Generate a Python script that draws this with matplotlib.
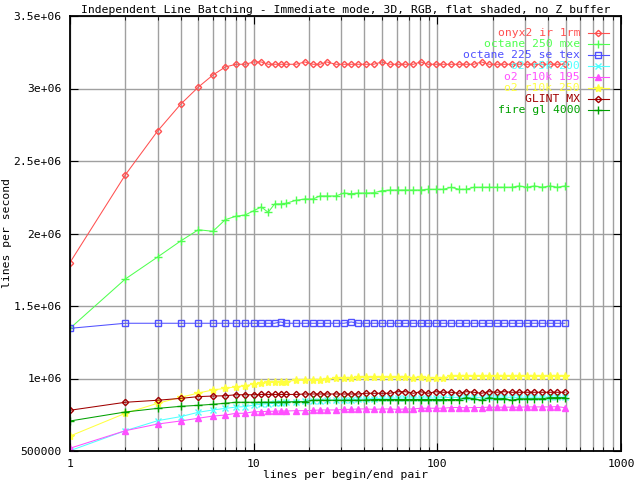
# line batching - modo imediato, 3D, RGB, flat shaded, sem Z buffer

import matplotlib.pyplot as plt
from matplotlib.ticker import LogLocator, FixedLocator, NullFormatter

plt.rcParams['font.family'] = ['DejaVu Sans Mono']
plt.rcParams['font.size'] = 8.2

# linhas por par begin/end
x = [1, 2, 3, 4, 5, 6, 7, 8, 9, 10, 11, 12, 13, 14, 15, 17, 19, 21, 23, 25,
     28, 31, 34, 37, 41, 45, 50, 55, 61, 67, 74, 81, 89, 98, 108, 119, 131,
     144, 158, 174, 191, 210, 231, 254, 279, 307, 338, 372, 409, 450, 495]

onyx2 = [1800000, 2404000, 2707000, 2891000, 3010000, 3093000, 3148000, 3167000,
         3167000, 3183000, 3183000, 3167000, 3167000, 3167000, 3167000, 3167000,
         3183000, 3167000, 3167000, 3183000, 3167000, 3167000, 3167000, 3167000,
         3167000, 3167000, 3183000, 3167000, 3167000, 3167000, 3167000, 3183000,
         3167000, 3167000, 3167000, 3167000, 3167000, 3167000, 3167000, 3183000,
         3167000, 3167000, 3167000, 3167000, 3167000, 3167000, 3167000, 3167000,
         3167000, 3167000, 3167000]

octane_mxe = [1346000, 1686000, 1838000, 1948000, 2026000, 2015000, 2095000, 2119000,
              2128000, 2157000, 2183000, 2146000, 2204000, 2204000, 2208000, 2229000,
              2238000, 2238000, 2259000, 2259000, 2259000, 2279000, 2275000, 2279000,
              2279000, 2281000, 2295000, 2300000, 2300000, 2300000, 2300000, 2300000,
              2305000, 2305000, 2305000, 2319000, 2305000, 2305000, 2319000, 2319000,
              2319000, 2319000, 2319000, 2319000, 2328000, 2319000, 2328000, 2319000,
              2328000, 2319000, 2328000]

octane_tex = [1346000, 1381000, 1381000, 1381000, 1381000, 1381000, 1381000, 1381000,
              1381000, 1381000, 1381000, 1381000, 1381000, 1390000, 1381000, 1381000,
              1381000, 1381000, 1381000, 1381000, 1381000, 1381000, 1390000, 1381000,
              1381000, 1381000, 1381000, 1381000, 1381000, 1381000, 1381000, 1381000,
              1381000, 1381000, 1381000, 1381000, 1381000, 1381000, 1381000, 1381000,
              1381000, 1381000, 1381000, 1381000, 1381000, 1381000, 1381000, 1381000,
              1381000, 1381000, 1381000]

o2_r5k = [502000, 640000, 709000, 737000, 767000, 783000, 794000, 803000,
          806000, 817000, 822000, 826000, 829000, 832000, 836000, 840000,
          843000, 846000, 848000, 850000, 852000, 853000, 855000, 857000,
          860000, 862000, 863000, 865000, 865000, 865000, 866000, 865000,
          866000, 865000, 868000, 870000, 870000, 872000, 870000, 870000,
          872000, 870000, 872000, 870000, 870000, 872000, 870000, 872000,
          872000, 872000, 872000]

o2_r10k_195 = [519000, 640000, 686000, 707000, 726000, 741000, 748000, 760000,
               760000, 771000, 771000, 774000, 774000, 776000, 776000, 778000,
               778000, 780000, 783000, 783000, 783000, 787000, 787000, 790000,
               790000, 787000, 790000, 790000, 787000, 790000, 790000, 795000,
               795000, 795000, 795000, 800000, 800000, 798000, 800000, 800000,
               802000, 802000, 802000, 802000, 802000, 804000, 804000, 804000,
               804000, 806000, 799000]

o2_r10k_250 = [603000, 760000, 829000, 870000, 900000, 921000, 932000, 943000,
               950000, 962000, 967000, 974000, 974000, 978000, 978000, 988000,
               988000, 992000, 992000, 997000, 1001000, 1001000, 1001000, 1008000,
               1008000, 1008000, 1008000, 1008000, 1008000, 1008000, 1006000, 1012000,
               1006000, 1006000, 1006000, 1015000, 1015000, 1015000, 1015000, 1015000,
               1015000, 1015000, 1015000, 1015000, 1015000, 1015000, 1015000, 1015000,
               1015000, 1015000, 1015000]

glint = [781000, 836000, 850000, 863000, 875000, 879000, 881000, 888000,
         888000, 888000, 890000, 890000, 890000, 890000, 890000, 890000,
         893000, 893000, 893000, 893000, 893000, 893000, 893000, 893000,
         898000, 898000, 898000, 898000, 909000, 909000, 898000, 909000,
         898000, 909000, 905000, 905000, 898000, 909000, 905000, 898000,
         909000, 905000, 909000, 905000, 905000, 905000, 905000, 905000,
         905000, 905000, 905000]

fire_gl = [707000, 769000, 794000, 808000, 815000, 822000, 829000, 836000,
           836000, 836000, 836000, 836000, 836000, 838000, 838000, 840000,
           840000, 850000, 850000, 850000, 850000, 850000, 850000, 850000,
           852000, 855000, 855000, 855000, 855000, 855000, 855000, 855000,
           855000, 855000, 855000, 855000, 855000, 868000, 860000, 850000,
           868000, 860000, 862000, 850000, 860000, 860000, 860000, 860000,
           868000, 868000, 868000]

nomes = ['onyx2 ir 1rm', 'octane 250 mxe', 'octane 225 se tex', 'o2 r5k 200',
         'o2 r10k 195', 'o2 r10k 250', 'GLINT MX', 'fire gl 4000']
series = [onyx2, octane_mxe, octane_tex, o2_r5k, o2_r10k_195, o2_r10k_250, glint, fire_gl]
cores = ['#ff5050', '#50ff50', '#5050ff', '#50ffff', '#ff50ff', '#ffff40', '#a00000', '#00a000']
marcadores = ['D', '+', 's', 'x', '^', '*', 'D', '+']
tamanhos = [3.2, 6, 4, 5, 4, 6, 3.2, 6]

fig = plt.figure(figsize=(6.4, 4.8), dpi=100)
ax = fig.add_axes([70 / 640, 29 / 480, 551 / 640, 435 / 480])

ax.set_xscale('log')
ax.set_xlim(1, 1000)
ax.set_ylim(500000, 3500000)

ax.xaxis.set_major_locator(FixedLocator([1, 10, 100, 1000]))
ax.xaxis.set_minor_locator(LogLocator(base=10, subs=range(2, 10)))
ax.xaxis.set_minor_formatter(NullFormatter())
ax.set_xticklabels(['1', '10', '100', '1000'], fontsize=8.2)
yt = [500000, 1000000, 1500000, 2000000, 2500000, 3000000, 3500000]
ax.set_yticks(yt)
ax.set_yticklabels(['500000', '1e+06', '1.5e+06', '2e+06', '2.5e+06', '3e+06', '3.5e+06'],
                   fontsize=8.2)

ax.grid(True, which='both', axis='x', color='#a0a0a0', lw=1.0)
ax.grid(True, which='major', axis='y', color='#a0a0a0', lw=1.0)
ax.set_axisbelow(True)
ax.tick_params(which='both', direction='in', top=True, right=True, pad=6)
ax.tick_params(which='major', length=6)
ax.tick_params(which='minor', length=3)
for s in ax.spines.values():
    s.set_linewidth(1.3)

# legenda no estilo do gnuplot: texto alinhado a direita, amostra depois
ly = 0.9602
for nome, ys, cor, mk, ms in zip(nomes, series, cores, marcadores, tamanhos):
    ax.text(0.9256, ly, nome, transform=ax.transAxes, ha='right', va='center',
            color=cor, fontsize=8.2)
    ax.plot([0.940, 0.978], [ly, ly], transform=ax.transAxes, color=cor, lw=0.8,
            clip_on=False)
    ax.plot([0.958], [ly], transform=ax.transAxes, color=cor, marker=mk, ms=ms,
            mfc='none' if mk in ('D', 's') else cor, mew=1, clip_on=False)
    ax.plot(x, ys, color=cor, lw=0.75, marker=mk, ms=ms,
            mfc='none' if mk in ('D', 's') else cor, mew=1)
    ly -= 0.0252

ax.set_title('Independent Line Batching - Immediate mode, 3D, RGB, flat shaded, no Z buffer',
             fontsize=8.2, pad=2)
ax.set_xlabel('lines per begin/end pair', fontsize=8.2)
ax.set_ylabel('lines per second', fontsize=8.2)
ax.xaxis.set_label_coords(0.5, -0.044)
ax.yaxis.set_label_coords(-0.105, 0.5)

plt.savefig('out.png', dpi=100)
